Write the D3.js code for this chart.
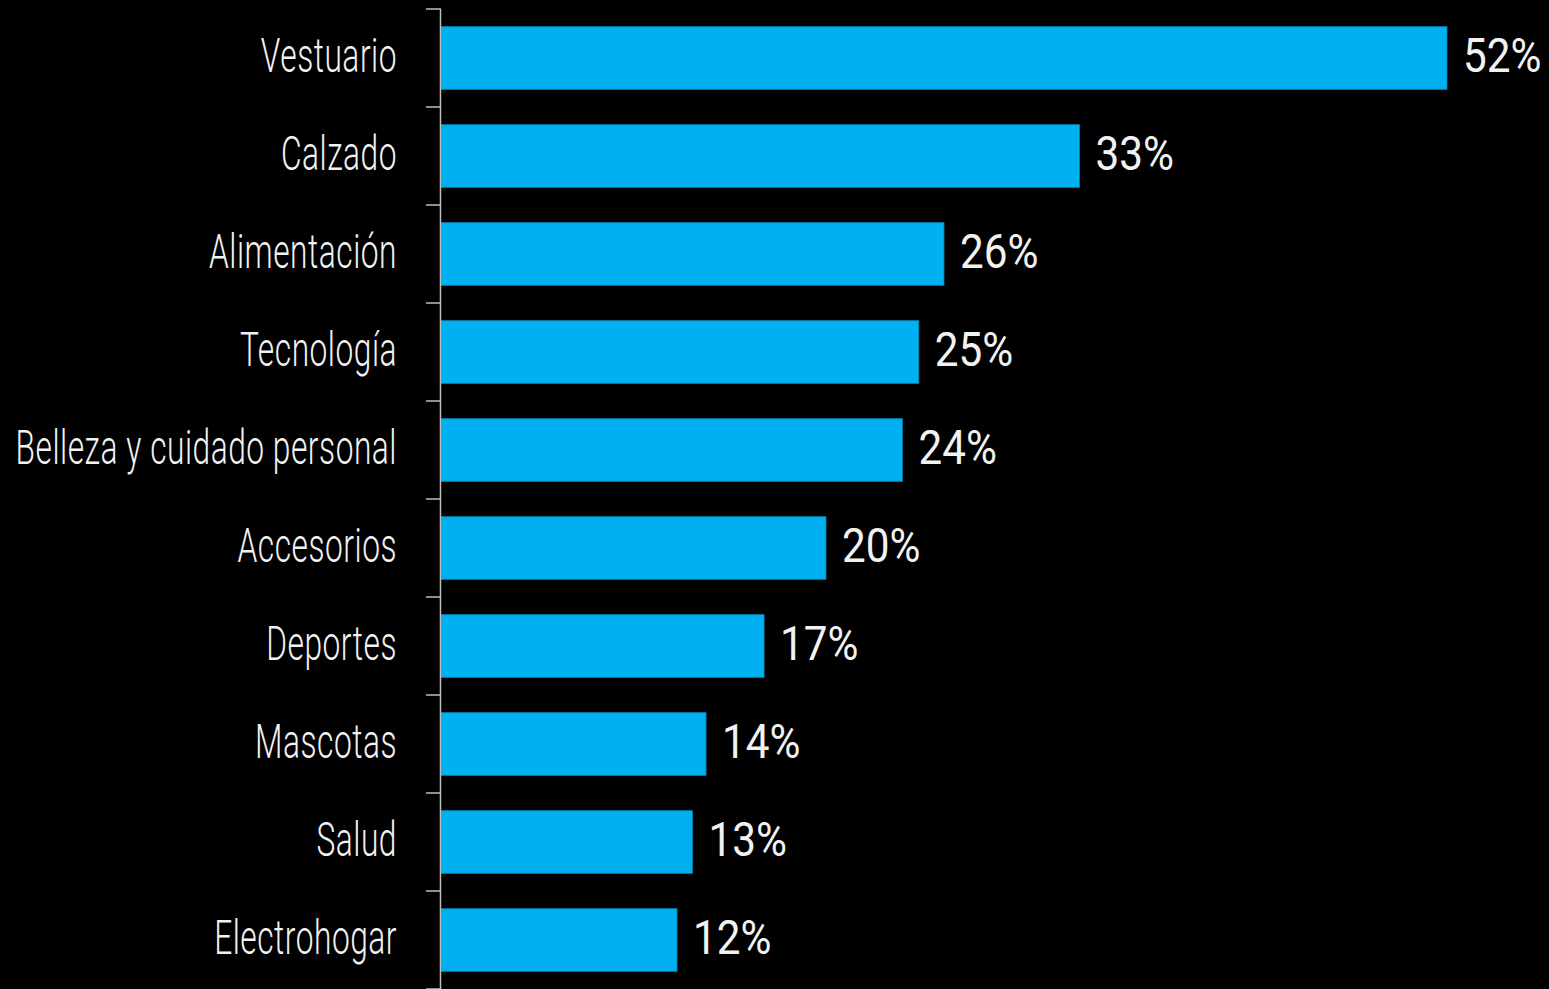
<!DOCTYPE html>
<html>
<head>
<meta charset="utf-8">
<script src="https://cdn.jsdelivr.net/npm/d3@7"></script>
<style>
  html, body { margin: 0; padding: 0; background: #000; overflow: hidden; }
  svg { display: block; }
</style>
</head>
<body>
<svg id="chart"></svg>
<script>
// categorias y valores (%)
var categories = ["Vestuario", "Calzado", "Alimentación", "Tecnología", "Belleza y cuidado personal",
                  "Accesorios", "Deportes", "Mascotas", "Salud", "Electrohogar"];
var values = [52, 33, 26, 24.7, 23.85, 19.9, 16.7, 13.7, 13, 12.2];

var width = 1549, height = 989;
var x0 = 441;           // donde empieza el eje
var labelScale = 0.66;  // la fuente original es muy condensada
var valueScale = 0.88;

var svg = d3.select("#chart")
    .attr("width", width)
    .attr("height", height);

svg.append("rect").attr("width", width).attr("height", height).attr("fill", "#000");

var data = categories.map((c, i) => ({ name: c, value: values[i] }));

var x = d3.scaleLinear()
    .domain([0, 52])
    .range([x0, 1447]);

var y = d3.scaleBand()
    .domain(categories)
    .range([9, 989])
    .paddingInner(0.36)
    .paddingOuter(0.18);

// barras
svg.append("g")
    .selectAll("rect")
    .data(data)
    .enter()
    .append("rect")
    .attr("x", x(0))
    .attr("y", d => y(d.name))
    .attr("width", d => x(d.value) - x(0))
    .attr("height", y.bandwidth())
    .attr("fill", "#00b0f0")
    .attr("stroke", "#0a7fb0")
    .attr("stroke-width", 0.8);

// eje vertical con ticks entre categorias
var axisG = svg.append("g");
axisG.append("line")
    .attr("x1", x0 - 0.5).attr("x2", x0 - 0.5)
    .attr("y1", 9).attr("y2", 989)
    .attr("stroke", "#bfbfbf")
    .attr("stroke-width", 1.5);

var tickPos = categories.map(c => y(c) - y.step() * y.paddingOuter());
tickPos.push(989);
axisG.selectAll("line.tick")
    .data(tickPos)
    .enter()
    .append("line")
    .attr("class", "tick")
    .attr("x1", x0 - 15).attr("x2", x0)
    .attr("y1", d => d).attr("y2", d => d)
    .attr("stroke", "#bfbfbf")
    .attr("stroke-width", 1.5);

// etiquetas de categoria
svg.append("g")
    .selectAll("g")
    .data(data)
    .enter()
    .append("g")
    .attr("transform", d => "translate(397," + (y(d.name) + y.bandwidth() / 2) + ") scale(" + labelScale + ",1)")
    .append("text")
    .attr("dy", "0.3em")
    .style("text-anchor", "end")
    .style("font-family", "Roboto, sans-serif")
    .style("font-size", "48px")
    .style("font-weight", 300)
    .style("letter-spacing", "0.8px")
    .attr("fill", "#f2f2f2")
    .text(d => d.name);

// valores
svg.append("g")
    .selectAll("g")
    .data(data)
    .enter()
    .append("g")
    .attr("transform", d => "translate(" + (x(d.value) + 16) + "," + (y(d.name) + y.bandwidth() / 2) + ") scale(" + valueScale + ",1)")
    .append("text")
    .attr("dy", "0.3em")
    .style("text-anchor", "start")
    .style("font-family", "Roboto, sans-serif")
    .style("font-size", "48px")
    .style("font-weight", 400)
    .attr("fill", "#f2f2f2")
    .text(d => Math.round(d.value) + "%");
</script>
</body>
</html>
